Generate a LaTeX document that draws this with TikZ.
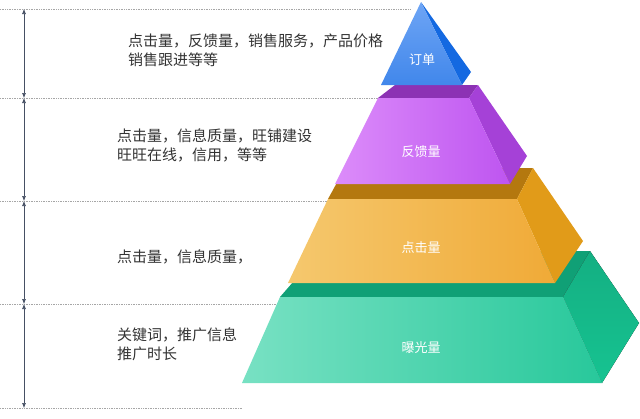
\documentclass[tikz,border=0pt]{standalone}
\usepackage{fontspec}
\usetikzlibrary{arrows.meta}
\setmainfont{Noto Sans CJK SC}
\begin{document}
\begin{tikzpicture}[x=1pt,y=-1pt,
  dline/.style={densely dotted,gray!70,line width=0.7pt},
  varrow/.style={{Latex[length=5pt,width=4pt]}-{Latex[length=5pt,width=4pt]},color={rgb,255:red,70;green,80;blue,100},line width=0.6pt},
  lbl/.style={anchor=north west,align=left,font=\fontsize{15}{19}\selectfont,text=black!80,inner sep=0pt},
  tier/.style={text=white,font=\fontsize{13}{15}\selectfont}]
\useasboundingbox (0,0) rectangle (640,418);
% dotted lines
\draw[dline] (0,9) -- (410,9);
\draw[dline] (0,98) -- (378,98);
\draw[dline] (0,201) -- (328,201);
\draw[dline] (0,304) -- (280,304);
\draw[dline] (0,408) -- (242,408);
\coordinate (a0) at (24,9); \coordinate (a1) at (24,98); \coordinate (a2) at (24,201);
\coordinate (a3) at (24,304); \coordinate (a4) at (24,408);
\draw[varrow] (a0) -- (a1);
\draw[varrow] (a1) -- (a2);
\draw[varrow] (a2) -- (a3);
\draw[varrow] (a3) -- (a4);
% green tier
\fill[color={rgb,255:red,16;green,160;blue,118}] (320,251) -- (590,251) -- (563,297) -- (280,297) -- cycle;
\fill[top color={rgb,255:red,20;green,175;blue,130},bottom color={rgb,255:red,22;green,195;blue,145}] (590,251) -- (639,323) -- (602,383) -- (563,297) -- cycle;
\shade[left color={rgb,255:red,120;green,225;blue,195},right color={rgb,255:red,40;green,200;blue,155}] (280,297) -- (563,297) -- (602,383) -- (242,383) -- cycle;
% orange tier
\fill[color={rgb,255:red,180;green,120;blue,15}] (345,168) -- (533,168) -- (517,199) -- (328,199) -- cycle;
\fill[color={rgb,255:red,225;green,155;blue,25}] (533,168) -- (583,241) -- (555,283) -- (517,199) -- cycle;
\shade[left color={rgb,255:red,245;green,200;blue,110},right color={rgb,255:red,240;green,170;blue,55}] (328,199) -- (517,199) -- (555,283) -- (288,283) -- cycle;
% purple tier
\fill[color={rgb,255:red,140;green,50;blue,180}] (395,85) -- (478,85) -- (469,98) -- (378,98) -- cycle;
\fill[color={rgb,255:red,165;green,65;blue,215}] (478,85) -- (527,156) -- (510,184) -- (469,98) -- cycle;
\shade[left color={rgb,255:red,220;green,140;blue,250},right color={rgb,255:red,190;green,85;blue,240}] (378,98) -- (469,98) -- (510,184) -- (335,184) -- cycle;
% blue tier
\fill[color={rgb,255:red,20;green,105;blue,225}] (421,2) -- (471,72) -- (462,85) -- cycle;
\shade[top color={rgb,255:red,110;green,165;blue,245},bottom color={rgb,255:red,65;green,135;blue,235}] (421,2) -- (462,85) -- (381,85) -- cycle;
% tier labels
\node[tier] (t1) at (422,60) {订单};
\node[tier] (t2) at (421,152) {反馈量};
\node[tier] (t3) at (421,248) {点击量};
\node[tier] (t4) at (421,348) {曝光量};
% left texts
\node[lbl] (l1) at (128,34) {点击量，反馈量，销售服务，产品价格\\销售跟进等等};
\node[lbl] (l2) at (117,129) {点击量，信息质量，旺铺建设\\旺旺在线，信用，等等};
\node[lbl] (l3) at (117,250) {点击量，信息质量，};
\node[lbl] (l4) at (117,328) {关键词，推广信息\\推广时长};
\end{tikzpicture}
\end{document}
